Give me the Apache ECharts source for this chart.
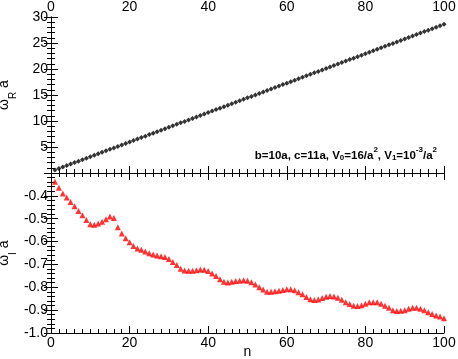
<!DOCTYPE html>
<html>
<head>
<meta charset="utf-8">
<script src="https://cdn.jsdelivr.net/npm/echarts@6/dist/echarts.min.js"></script>
<style>
    html, body { margin: 0; padding: 0; background: #fff; }
    #chart { width: 458px; height: 359px; }
</style>
</head>
<body>
<div id="chart"></div>
<script>
// real part, n = 1..100
const omegaR = [
    0.58, 0.87, 1.15, 1.43, 1.72, 2.00, 2.28, 2.56, 2.85, 3.13,
    3.41, 3.70, 3.98, 4.26, 4.55, 4.83, 5.11, 5.39, 5.68, 5.96,
    6.24, 6.53, 6.81, 7.09, 7.38, 7.66, 7.94, 8.22, 8.51, 8.79,
    9.07, 9.36, 9.64, 9.92, 10.21, 10.49, 10.77, 11.05, 11.34, 11.62,
    11.90, 12.19, 12.47, 12.75, 13.04, 13.32, 13.60, 13.88, 14.17, 14.45,
    14.73, 15.02, 15.30, 15.58, 15.87, 16.15, 16.43, 16.71, 17.00, 17.28,
    17.56, 17.85, 18.13, 18.41, 18.70, 18.98, 19.26, 19.54, 19.83, 20.11,
    20.39, 20.68, 20.96, 21.24, 21.53, 21.81, 22.09, 22.37, 22.66, 22.94,
    23.22, 23.51, 23.79, 24.07, 24.36, 24.64, 24.92, 25.20, 25.49, 25.77,
    26.05, 26.34, 26.62, 26.90, 27.19, 27.47, 27.75, 28.03, 28.32, 28.60
]

// imaginary part, n = 1..100
const omegaI = [
    -0.338, -0.365, -0.390, -0.407, -0.427, -0.446, -0.466, -0.485, -0.506, -0.524,
    -0.526, -0.521, -0.513, -0.502, -0.490, -0.497, -0.537, -0.565, -0.586, -0.603,
    -0.619, -0.630, -0.636, -0.643, -0.651, -0.657, -0.661, -0.664, -0.667, -0.676,
    -0.689, -0.703, -0.719, -0.727, -0.728, -0.728, -0.725, -0.722, -0.723, -0.729,
    -0.740, -0.751, -0.765, -0.776, -0.779, -0.776, -0.773, -0.771, -0.769, -0.771,
    -0.778, -0.788, -0.800, -0.810, -0.819, -0.820, -0.817, -0.815, -0.812, -0.809,
    -0.809, -0.813, -0.822, -0.831, -0.843, -0.852, -0.856, -0.853, -0.847, -0.841,
    -0.838, -0.840, -0.846, -0.854, -0.865, -0.873, -0.881, -0.882, -0.879, -0.872,
    -0.866, -0.865, -0.866, -0.872, -0.881, -0.890, -0.900, -0.904, -0.903, -0.900,
    -0.894, -0.890, -0.890, -0.894, -0.900, -0.909, -0.917, -0.923, -0.928, -0.935
]

const FONT = 'Liberation Sans, Arial, sans-serif'

const myChart = echarts.init(document.getElementById('chart'), null, { renderer: 'canvas' })

const tickStyle = { color: '#000', width: 1 }

function xAx(grid, pos, labels, extra) {
    return Object.assign({
        type: 'value',
        gridIndex: grid,
        position: pos,
        min: 0,
        max: 100,
        interval: 20,
        axisLine: { lineStyle: { color: '#000', width: 1 } },
        axisTick: { inside: true, length: 7, lineStyle: tickStyle },
        minorTick: { show: true, splitNumber: 10, length: 4, lineStyle: tickStyle },
        splitLine: { show: false },
        axisLabel: { show: labels, color: '#000', fontSize: 14, fontFamily: FONT, margin: 3 }
    }, extra || {})
}

function yAx(grid, pos, labels, min, max, interval, minorN, fmt, extra) {
    return Object.assign({
        type: 'value',
        gridIndex: grid,
        position: pos,
        min: min,
        max: max,
        interval: interval,
        axisLine: { lineStyle: { color: '#000', width: 1 } },
        axisTick: { inside: true, length: 7, lineStyle: tickStyle },
        minorTick: { show: true, splitNumber: minorN, length: 4, lineStyle: tickStyle },
        splitLine: { show: false },
        axisLabel: { show: labels, color: '#000', fontSize: 14, fontFamily: FONT, margin: 3, formatter: fmt }
    }, extra || {})
}

// h is an invisible strut that sets the line height so the subscript can drop
const nameRich = {
    a: { fontSize: 14, fontFamily: FONT, color: '#000', lineHeight: 14, verticalAlign: 'top' },
    s: { fontSize: 10, fontFamily: FONT, color: '#000', lineHeight: 10, verticalAlign: 'bottom' },
    h: { fontSize: 1, lineHeight: 21, color: 'rgba(0,0,0,0)' }
}

const noteRich = {
    t: { fontSize: 11.5, fontFamily: FONT, fontWeight: 'bold', color: '#000', lineHeight: 16, verticalAlign: 'bottom' },
    sub: { fontSize: 8, fontFamily: FONT, fontWeight: 'bold', color: '#000', lineHeight: 8, verticalAlign: 'bottom' },
    sup: { fontSize: 8, fontFamily: FONT, fontWeight: 'bold', color: '#000', lineHeight: 8, verticalAlign: 'top' }
}

let option = {
    animation: false,
    backgroundColor: '#fff',
    title: {
        text: '{t|b=10a, c=11a, V}{sub|0}{t|=16/a}{sup|2}{t|, V}{sub|1}{t|=10}{sup|-3}{t|/a}{sup|2}',
        right: 21,
        top: 146,
        padding: 0,
        textStyle: { rich: noteRich }
    },
    grid: [
        { left: 51, top: 17, width: 393, height: 156, outerBoundsMode: 'none' },
        { left: 51, top: 173, width: 393, height: 160, outerBoundsMode: 'none' }
    ],
    xAxis: [
        xAx(0, 'top', true),
        xAx(0, 'bottom', false),
        xAx(1, 'bottom', true, {
            name: 'n',
            nameLocation: 'middle',
            nameGap: 12,
            nameMoveOverlap: false,
            nameTextStyle: { color: '#000', fontSize: 14, fontFamily: FONT }
        }),
        xAx(1, 'top', false)
    ],
    yAxis: [
        yAx(0, 'left', true, 0, 30, 5, 5, v => (v === 0 ? '' : String(v)), {
            name: '{a|ω}{s|R}{a| a}{h| }',
            nameLocation: 'middle',
            nameGap: 33,
            nameRotate: 90,
            nameMoveOverlap: false,
            nameTextStyle: { rich: nameRich }
        }),
        yAx(0, 'right', false, 0, 30, 5, 5),
        yAx(1, 'left', true, -1.0, -0.3, 0.1, 5, v => (Math.abs(v + 0.3) < 1e-6 ? '' : v.toFixed(1)), {
            name: '{a|ω}{s|I}{a| a}{h| }',
            nameLocation: 'middle',
            nameGap: 33,
            nameRotate: 90,
            nameMoveOverlap: false,
            nameTextStyle: { rich: nameRich }
        }),
        yAx(1, 'right', false, -1.0, -0.3, 0.1, 5)
    ],
    series: [
        {
            type: 'scatter',
            xAxisIndex: 0,
            yAxisIndex: 0,
            symbol: 'diamond',
            symbolSize: 5,
            itemStyle: { color: '#000' },
            data: omegaR.map((v, i) => [i + 1, v])
        },
        {
            type: 'scatter',
            xAxisIndex: 2,
            yAxisIndex: 2,
            symbol: 'triangle',
            symbolSize: 6,
            itemStyle: { color: '#ff0000' },
            data: omegaI.map((v, i) => [i + 1, v])
        }
    ]
}

myChart.setOption(option)
</script>
</body>
</html>
